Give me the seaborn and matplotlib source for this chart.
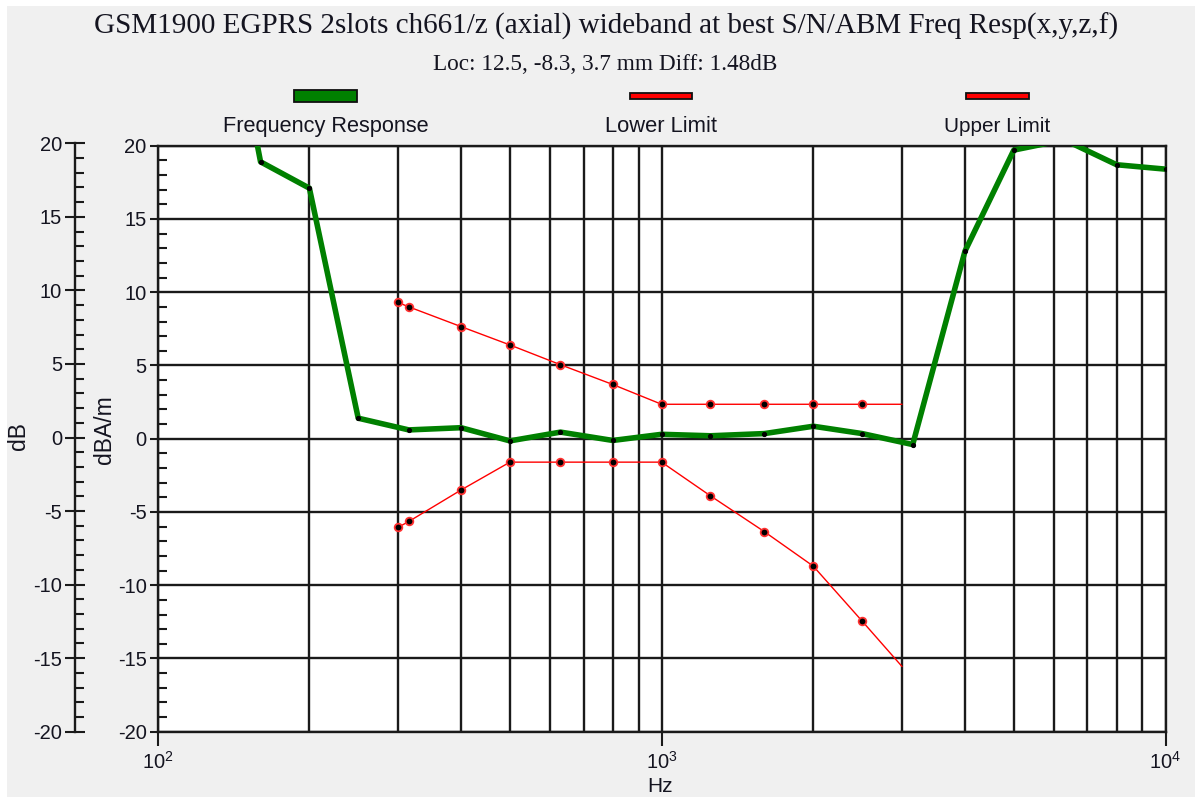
import numpy as np
import pandas as pd
import matplotlib
matplotlib.use("Agg")
import matplotlib.pyplot as plt
import seaborn as sns
from matplotlib.patches import Rectangle
from matplotlib.ticker import FixedLocator, NullFormatter

# ---------------- data ----------------
freq_resp_hz = [125, 160, 200, 250, 315, 400, 500, 630, 800, 1000, 1250, 1600,
                2000, 2500, 3150, 4000, 5000, 6300, 8000, 10000]
freq_resp_db = [38.0, 18.9, 17.1, 1.4, 0.6, 0.75, -0.15, 0.45, -0.12, 0.3, 0.2, 0.35,
                0.85, 0.35, -0.4, 12.8, 19.7, 20.4, 18.7, 18.4]

limit_hz = [300, 315, 400, 500, 630, 800, 1000, 1250, 1600, 2000, 2500, 3000]
upper_limit_db = [9.3, 9.0, 7.65, 6.4, 5.05, 3.7, 2.35, 2.35, 2.35, 2.35, 2.35, 2.35]
lower_limit_db = [-6.05, -5.65, -3.5, -1.6, -1.6, -1.6, -1.6, -3.9, -6.35, -8.7, -12.45, -15.55]

y_ticks = [-20, -15, -10, -5, 0, 5, 10, 15, 20]
x_ticks = [100, 1000, 10000]
x_tick_labels = ["$10^2$", "$10^3$", "$10^4$"]

title = "GSM1900 EGPRS 2slots ch661/z (axial) wideband at best S/N/ABM Freq Resp(x,y,z,f)"
subtitle = "Loc: 12.5, -8.3, 3.7 mm Diff: 1.48dB"
legend_names = ["Frequency Response", "Lower Limit", "Upper Limit"]

# ---------------- style ----------------
sns.set_style("white")
plt.rcParams["font.family"] = ["Liberation Sans", "DejaVu Sans"]
plt.rcParams["mathtext.default"] = "regular"

W, H = 1195, 798
TXT = "#141420"
GREEN = "#008000"
RED = "#ff0000"
INK = "#1a1a1a"


def fx(px):
    return px / W


def fy(py):
    return 1 - py / H


fig = plt.figure(figsize=(W / 100, H / 100), dpi=100, facecolor="white")
fig.patches.append(Rectangle((fx(7), fy(797)), 1 - fx(7), fy(6) - fy(797),
                             transform=fig.transFigure, facecolor="#f0f0f0",
                             edgecolor="none", zorder=-10))
renderer = fig.canvas.get_renderer()


def fit_text(x, y, s, width_px, **kw):
    t = fig.text(x, y, s, fontsize=20, **kw)
    w = t.get_window_extent(renderer).width
    t.set_fontsize(20 * width_px / w)
    return t


# main axes
ax = fig.add_axes([fx(157.7), fy(731.7), fx(1165.5) - fx(157.7), fy(145.7) - fy(731.7)])
ax.set_facecolor("white")
ax.set_xscale("log")

df_fr = pd.DataFrame({"Hz": freq_resp_hz, "dB": freq_resp_db})
df_lim = pd.DataFrame({"Hz": limit_hz, "upper": upper_limit_db, "lower": lower_limit_db})

sns.lineplot(data=df_fr, x="Hz", y="dB", ax=ax, color=GREEN, lw=4.0, sort=False,
             marker="o", ms=3.0, mfc="black", mec="black", zorder=4, legend=False)
for col in ["upper", "lower"]:
    sns.lineplot(data=df_lim, x="Hz", y=col, ax=ax, color=RED, lw=1.0, sort=False,
                 marker="o", ms=5.5, mfc="black", mec="#ff3030", mew=1.3,
                 markevery=list(range(len(limit_hz) - 1)), zorder=5, legend=False)

ax.set_xlim(100, 10000)
ax.set_ylim(-20, 20)
ax.set_xlabel("")
ax.set_ylabel("")

ax.set_xticks(x_ticks)
ax.set_xticklabels(x_tick_labels)
ax.xaxis.set_minor_locator(FixedLocator([m * 10 ** e for e in (2, 3) for m in range(2, 10)]))
ax.xaxis.set_minor_formatter(NullFormatter())
ax.set_yticks(y_ticks)
ax.set_yticklabels([str(v) for v in y_ticks])
ax.yaxis.set_minor_locator(FixedLocator(list(range(-20, 21))))

ax.grid(which="major", axis="both", color=INK, lw=1.7)
ax.grid(which="minor", axis="x", color=INK, lw=1.7)
ax.set_axisbelow(True)

ax.tick_params(axis="y", which="major", direction="out", length=5.5, width=1.5,
               labelsize=14.5, pad=2.5, colors=INK, labelcolor=TXT, left=True)
ax.tick_params(axis="y", which="minor", direction="in", length=6.5, width=1.5,
               colors=INK, left=True)
ax.tick_params(axis="x", which="major", direction="out", length=10, width=1.5,
               labelsize=14.5, pad=4, colors=INK, labelcolor=TXT, bottom=True)
ax.tick_params(axis="x", which="minor", length=0)
for sp in ax.spines.values():
    sp.set_color(INK)
    sp.set_linewidth(1.7)

# outer dB axis
ax2 = fig.add_axes([fx(75.4), fy(731.7), 0.0005, fy(143.3) - fy(731.7)])
ax2.patch.set_visible(False)
for k in ["top", "right", "bottom"]:
    ax2.spines[k].set_visible(False)
ax2.spines["left"].set_color(INK)
ax2.spines["left"].set_linewidth(1.7)
ax2.set_xticks([])
ax2.set_ylim(-20, 20)
ax2.set_yticks(y_ticks)
ax2.set_yticklabels([str(v) for v in y_ticks])
ax2.yaxis.set_minor_locator(FixedLocator(list(range(-20, 21))))
ax2.tick_params(axis="y", which="major", direction="inout", length=14, width=1.5,
                labelsize=14.5, pad=2.5, colors=INK, labelcolor=TXT, left=True)
ax2.tick_params(axis="y", which="minor", direction="in", length=6.5, width=1.5,
                colors=INK, left=True)

# axis labels
fig.text(fx(19), fy(436), "dB", rotation=90, ha="center", va="center",
         fontsize=16.5, color=TXT)
fig.text(fx(105), fy(430), "dBA/m", rotation=90, ha="center", va="center",
         fontsize=16.5, color=TXT)
fig.text(fx(660), fy(787), "Hz", ha="center", va="center", fontsize=15, color=TXT)

# title & subtitle
fit_text(fx(606), fy(33.3), title, 1024, ha="center", va="baseline",
         family=["Liberation Serif", "DejaVu Serif"], color=TXT)
fit_text(fx(605), fy(70), subtitle, 346, ha="center", va="baseline",
         family=["Liberation Serif", "DejaVu Serif"], color=TXT)

# legend (swatch above label)
leg_colors = [GREEN, RED, RED]
leg_cx = [325.5, 661, 997]
leg_h = [11, 6.5, 6.5]
leg_w = [206, 112, 106]
for name, c, cx, hh, tw in zip(legend_names, leg_colors, leg_cx, leg_h, leg_w):
    fig.patches.append(Rectangle((fx(cx - 31.5), fy(96 + hh / 2)), fx(63), hh / H,
                                 transform=fig.transFigure, facecolor=c,
                                 edgecolor="#101010", lw=1.3, zorder=3))
    fit_text(fx(cx), fy(132.3), name, tw, ha="center", va="baseline", color=TXT)

fig.savefig("out.png", dpi=100, facecolor=fig.get_facecolor())
